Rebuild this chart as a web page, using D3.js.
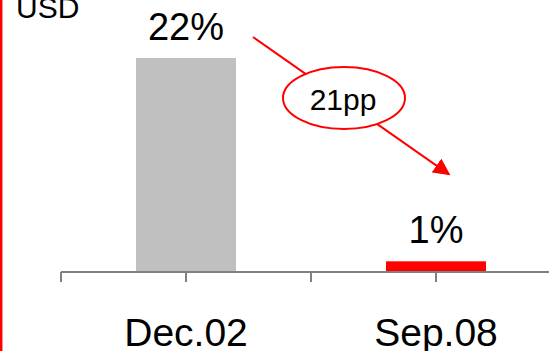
<!DOCTYPE html>
<html>
<head>
<meta charset="utf-8">
<script src="https://cdn.jsdelivr.net/npm/d3@7/dist/d3.min.js"></script>
<style>
  html, body { margin: 0; padding: 0; background: #fff; }
  svg { display: block; font-family: "Liberation Sans", Arial, sans-serif; }
</style>
</head>
<body>
<svg id="chart" width="549" height="351"></svg>
<script>
// Share of portfolio in USD, two snapshots
const categories = ["Dec.02", "Sep.08"];
const values = [22, 1];
const valueLabels = ["22%", "1%"];
const barColors = ["#c0c0c0", "#ff0000"];
const unitLabel = "USD";
const changeLabel = "21pp";

const W = 549, H = 351;
const svg = d3.select("#chart");

const x = d3.scaleBand().domain(categories).range([61, 561]);
const y = d3.scaleLinear().domain([0, 22]).range([271, 58]);
const barW = x.bandwidth() * 0.4;
const cx = c => x(c) + x.bandwidth() / 2;

// red rule on the left edge
svg.append("line")
  .attr("x1", 1.2).attr("x2", 1.2).attr("y1", 0).attr("y2", H)
  .attr("stroke", "#ff0000").attr("stroke-width", 2.5);

// unit label
svg.append("text")
  .attr("x", 16).attr("y", 18)
  .attr("font-size", 30)
  .attr("fill", "#000")
  .text(unitLabel);

// bars
svg.selectAll("rect.bar")
  .data(categories)
  .join("rect")
  .attr("class", "bar")
  .attr("x", c => cx(c) - barW / 2)
  .attr("width", barW)
  .attr("y", (c, i) => y(values[i]))
  .attr("height", (c, i) => y(0) - y(values[i]))
  .attr("fill", (c, i) => barColors[i]);

// value labels
svg.selectAll("text.val")
  .data(categories)
  .join("text")
  .attr("class", "val")
  .attr("x", c => cx(c))
  .attr("y", (c, i) => y(values[i]) - 18)
  .attr("text-anchor", "middle")
  .attr("font-size", 38)
  .attr("fill", "#000")
  .text((c, i) => valueLabels[i]);

// category axis
const axisY = 272;
const tickFont = 39;
const axis = d3.axisBottom(x).tickSize(10).tickPadding(36.3).tickSizeOuter(0);
const gAxis = svg.append("g")
  .attr("transform", `translate(0,${axisY})`)
  .call(axis);
gAxis.select(".domain").attr("stroke", "#808080").attr("stroke-width", 2)
  .attr("d", `M${x.range()[0]},0H${x.range()[1]}`);
gAxis.selectAll(".tick line").attr("stroke", "#808080").attr("stroke-width", 2);
gAxis.selectAll(".tick text")
  .attr("font-size", tickFont)
  .attr("font-family", "Liberation Sans, Arial, sans-serif")
  .attr("fill", "#000");

// boundary ticks between categories
const edges = categories.map(c => x(c)).concat([x.range()[1]]);
gAxis.selectAll("line.edge")
  .data(edges)
  .join("line")
  .attr("class", "edge")
  .attr("x1", d => d).attr("x2", d => d)
  .attr("y1", 0).attr("y2", 10)
  .attr("stroke", "#808080").attr("stroke-width", 2);

// change annotation: arrow from first label toward second, with ellipse callout
const defs = svg.append("defs");
defs.append("marker")
  .attr("id", "arrowhead")
  .attr("viewBox", "0 0 10 10")
  .attr("refX", 9).attr("refY", 5)
  .attr("markerWidth", 8.5).attr("markerHeight", 8.5)
  .attr("markerUnits", "strokeWidth")
  .attr("orient", "auto")
  .append("path")
  .attr("d", "M0,0L10,5L0,10Z")
  .attr("fill", "#ff0000");

const a0 = [cx(categories[0]) + 67, y(values[0]) - 21];
const a1 = [cx(categories[1]) + 13, y(values[1]) - 87];
svg.append("line")
  .attr("x1", a0[0]).attr("y1", a0[1])
  .attr("x2", a1[0]).attr("y2", a1[1])
  .attr("stroke", "#ff0000").attr("stroke-width", 2)
  .attr("marker-end", "url(#arrowhead)");

const ex = 344, ey = 98;
svg.append("ellipse")
  .attr("cx", ex).attr("cy", ey).attr("rx", 61).attr("ry", 31)
  .attr("fill", "#fff").attr("stroke", "#ff0000").attr("stroke-width", 2);
svg.append("text")
  .attr("x", ex - 1).attr("y", 110)
  .attr("text-anchor", "middle")
  .attr("font-size", 30)
  .attr("fill", "#000")
  .text(changeLabel);
</script>
</body>
</html>
